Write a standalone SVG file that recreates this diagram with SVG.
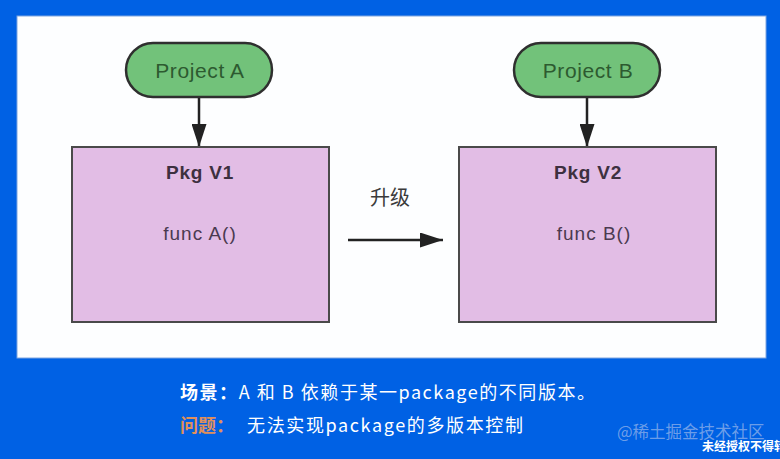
<svg xmlns="http://www.w3.org/2000/svg" width="780" height="459" viewBox="0 0 780 459">
<defs>
<style>
.pill{fill:#72C27A;stroke:#2f2f2f;stroke-width:2.5}
.box{fill:#E2BDE5;stroke:#4a4a4a;stroke-width:2}
.t{font-family:"Liberation Sans","Noto Sans CJK SC",sans-serif;text-anchor:middle}
.ptxt{font-size:21px;fill:#2d5a30;letter-spacing:0.6px}
.btitle{font-size:19px;font-weight:bold;fill:#3d3040;letter-spacing:0.8px}
.btxt{font-size:19px;fill:#4a3a50;letter-spacing:1px}
.conn{stroke:#222;stroke-width:2.5;fill:none}
.cap{font-family:"Noto Sans CJK SC","Liberation Sans",sans-serif;font-size:18px;fill:#ffffff}
</style>
<marker id="ah2" viewBox="0 0 16 14" refX="16" refY="7" markerWidth="23" markerHeight="15" markerUnits="userSpaceOnUse" orient="auto" preserveAspectRatio="none">
<path d="M0,0 L16,7 L0,14 Z" fill="#222"/>
</marker>
</defs>
<rect x="0" y="0" width="780" height="459" fill="#0061E4"/>
<rect x="17" y="16" width="749" height="342" fill="#FDFEFF" stroke="#7fa6e0" stroke-width="1"/>

<g id="connectors">
<line class="conn" x1="199" y1="97" x2="199" y2="147" marker-end="url(#ah2)"/>
<line class="conn" x1="587" y1="97" x2="587" y2="147" marker-end="url(#ah2)"/>
<line class="conn" x1="348" y1="240" x2="443" y2="240" marker-end="url(#ah2)"/>
<text x="390" y="205" font-family="'Noto Sans CJK SC',sans-serif" font-size="20" fill="#3a3a3a" text-anchor="middle">升级</text>
</g>

<g id="projectA">
<rect class="pill" x="126" y="43" width="146" height="54" rx="27"/>
<text class="t ptxt" x="200" y="78">Project A</text>
</g>
<g id="projectB">
<rect class="pill" x="514" y="43" width="146" height="54" rx="27"/>
<text class="t ptxt" x="588" y="78">Project B</text>
</g>

<g id="pkgV1">
<rect class="box" x="72" y="147" width="257" height="175"/>
<text class="t btitle" x="200" y="179">Pkg V1</text>
<text class="t btxt" x="200" y="240">func A()</text>
</g>
<g id="pkgV2">
<rect class="box" x="459" y="147" width="257" height="175"/>
<text class="t btitle" x="588" y="179">Pkg V2</text>
<text class="t btxt" x="594" y="240">func B()</text>
</g>

<g id="caption">
<text class="cap" x="180" y="399" textLength="415" lengthAdjust="spacing"><tspan font-weight="bold">场景：</tspan>A 和 B 依赖于某一package的不同版本。</text>
<text class="cap" x="180" y="432"><tspan font-weight="bold" fill="#E0905A">问题：</tspan></text>
<text class="cap" x="247" y="432" textLength="276" lengthAdjust="spacing">无法实现package的多版本控制</text>
</g>
<g id="watermark">
<text x="617" y="438" font-family="'Noto Sans CJK SC',sans-serif" font-size="16.5" fill="#8aaeea" fill-opacity="0.8">@稀土掘金技术社区</text>
<text x="702" y="451" font-family="'Noto Sans CJK SC',sans-serif" font-size="12" font-weight="bold" fill="#ffffff">未经授权不得转载</text>
</g>
</svg>
